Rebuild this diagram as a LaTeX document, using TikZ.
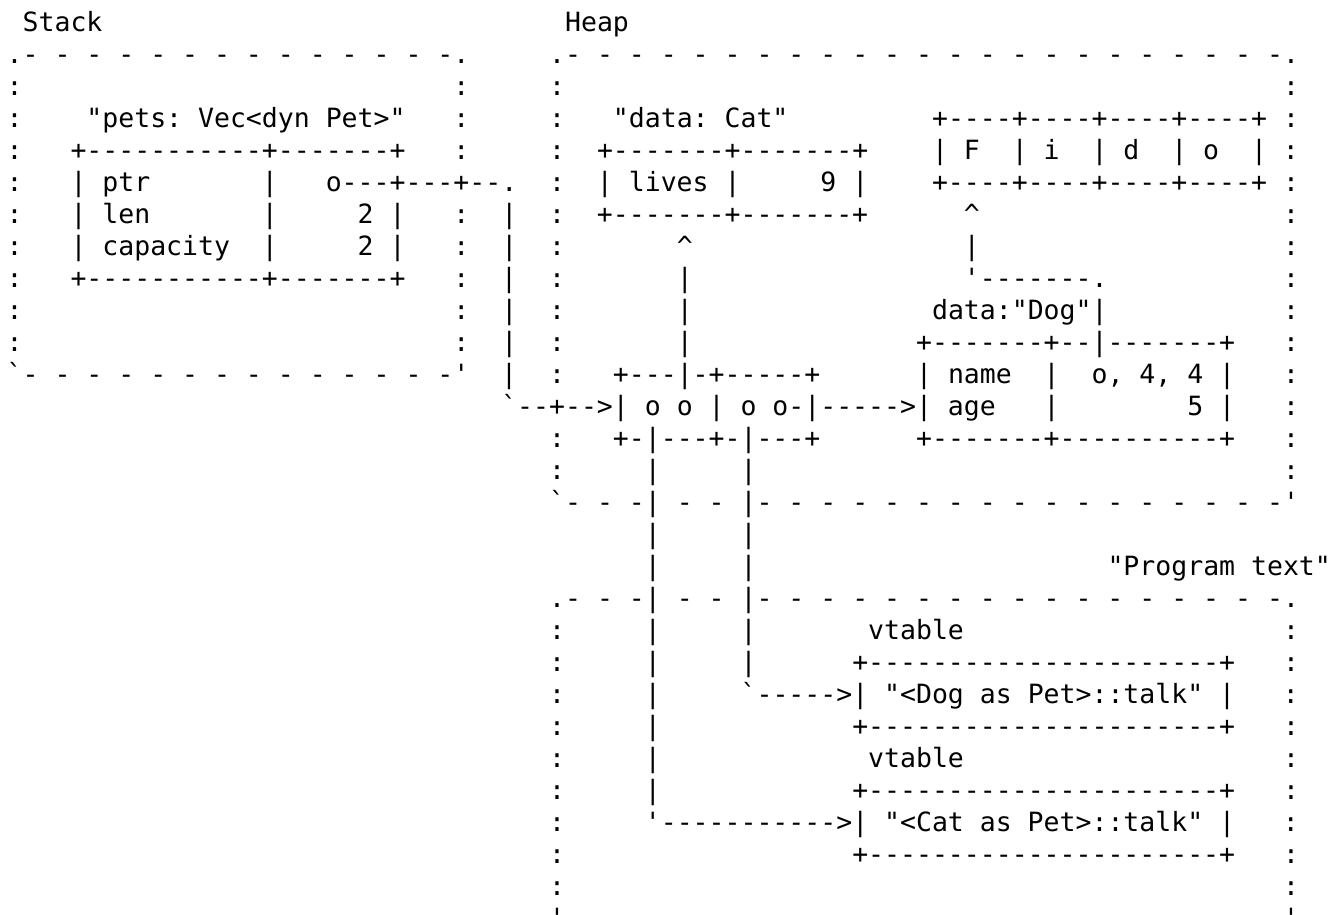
\documentclass[tikz,border=0pt]{standalone}
\usepackage{fontspec}
\setmonofont{DejaVu Sans Mono}
\usepackage{tikz}
\usetikzlibrary{positioning}

\newcommand\asciifont{\ttfamily\fontsize{26.5}{32}\selectfont\frenchspacing}
\newcommand\gap[1]{\kern#1\fontcharwd\font`x\relax}
\newcommand\rep[2]{\foreach\k in {1,...,#1}{#2}}

\tikzset{artline/.style={anchor=base west, inner sep=0pt, font=\asciifont}}

\begin{document}
\begin{tikzpicture}[x = 15.954pt, y = -32pt]
\path[use as bounding box, fill=white] (-6.5pt,31.7pt) rectangle (1336.5pt,-882.3pt);

% stack frame and heap frame
\node[artline] (r0) at (1,0) {Stack\gap{29}Heap};
\node[artline] (r1) at (0,1) {.\rep{13}{- }-.\gap{5}.\rep{22}{- }-.};
\node[artline] (r2) at (0,2) {:\gap{27}:\gap{5}:\gap{45}:};
\node[artline] (r3) at (0,3) {:\gap{4}"pets: Vec<dyn Pet>"\gap{3}:\gap{5}:\gap{3}"data: Cat"\gap{9}+\rep{4}{----+}\gap{1}:};
\node[artline] (r4) at (0,4) {:\gap{3}+\rep{11}{-}+\rep{7}{-}+\gap{3}:\gap{5}:\gap{2}+\rep{7}{-}+\rep{7}{-}+\gap{4}| F\gap{2}| i\gap{2}| d\gap{2}| o\gap{2}|\gap{1}:};
\node[artline] (r5) at (0,5) {:\gap{3}| ptr\gap{7}|\gap{3}o---+---+--.\gap{2}:\gap{2}| lives |\gap{5}9 |\gap{4}+\rep{4}{----+}\gap{1}:};
\node[artline] (r6) at (0,6) {:\gap{3}| len\gap{7}|\gap{5}2 |\gap{3}:\gap{2}|\gap{2}:\gap{2}+\rep{7}{-}+\rep{7}{-}+\gap{6}\textasciicircum\gap{19}:};
\node[artline] (r7) at (0,7) {:\gap{3}| capacity\gap{2}|\gap{5}2 |\gap{3}:\gap{2}|\gap{2}:\gap{7}\textasciicircum\gap{17}|\gap{19}:};
\node[artline] (r8) at (0,8) {:\gap{3}+\rep{11}{-}+\rep{7}{-}+\gap{3}:\gap{2}|\gap{2}:\gap{7}|\gap{17}'\rep{7}{-}.\gap{11}:};
\node[artline] (r9) at (0,9) {:\gap{27}:\gap{2}|\gap{2}:\gap{7}|\gap{15}data:"Dog"|\gap{11}:};
\node[artline] (r10) at (0,10) {:\gap{27}:\gap{2}|\gap{2}:\gap{7}|\gap{14}+\rep{7}{-}+--|\rep{7}{-}+\gap{3}:};
\node[artline] (r11) at (0,11) {`\rep{13}{- }-'\gap{2}|\gap{2}:\gap{3}+---|-+\rep{5}{-}+\gap{6}| name\gap{2}|\gap{2}o, 4, 4 |\gap{3}:};
\node[artline] (r12) at (31,12) {`--+-->| o o | o o-|\rep{5}{-}>| age\gap{3}|\gap{8}5 |\gap{3}:};
\node[artline] (r13) at (34,13) {:\gap{3}+-|---+-|---+\gap{6}+\rep{7}{-}+\rep{10}{-}+\gap{3}:};
\node[artline] (r14) at (34,14) {:\gap{5}|\gap{5}|\gap{33}:};
\node[artline] (r15) at (34,15) {`- - -| - - |\rep{16}{- }-'};

% program text frame
\node[artline] (r16) at (40,16) {|\gap{5}|};
\node[artline] (r17) at (40,17) {|\gap{5}|\gap{22}"Program text"};
\node[artline] (r18) at (34,18) {.- - -| - - |\rep{16}{- }-.};
\node[artline] (r19) at (34,19) {:\gap{5}|\gap{5}|\gap{7}vtable\gap{20}:};
\node[artline] (r20) at (34,20) {:\gap{5}|\gap{5}|\gap{6}+\rep{22}{-}+\gap{3}:};
\node[artline] (r21) at (34,21) {:\gap{5}|\gap{5}`\rep{5}{-}>| "<Dog as Pet>::talk" |\gap{3}:};
\node[artline] (r22) at (34,22) {:\gap{5}|\gap{12}+\rep{22}{-}+\gap{3}:};
\node[artline] (r23) at (34,23) {:\gap{5}|\gap{13}vtable\gap{20}:};
\node[artline] (r24) at (34,24) {:\gap{5}|\gap{12}+\rep{22}{-}+\gap{3}:};
\node[artline] (r25) at (34,25) {:\gap{5}'\rep{11}{-}>| "<Cat as Pet>::talk" |\gap{3}:};
\node[artline] (r26) at (34,26) {:\gap{18}+\rep{22}{-}+\gap{3}:};
\node[artline] (r27) at (34,27) {:\gap{45}:};
\node[artline] (r28) at (34,28) {'\gap{45}'};

\end{tikzpicture}
\end{document}
